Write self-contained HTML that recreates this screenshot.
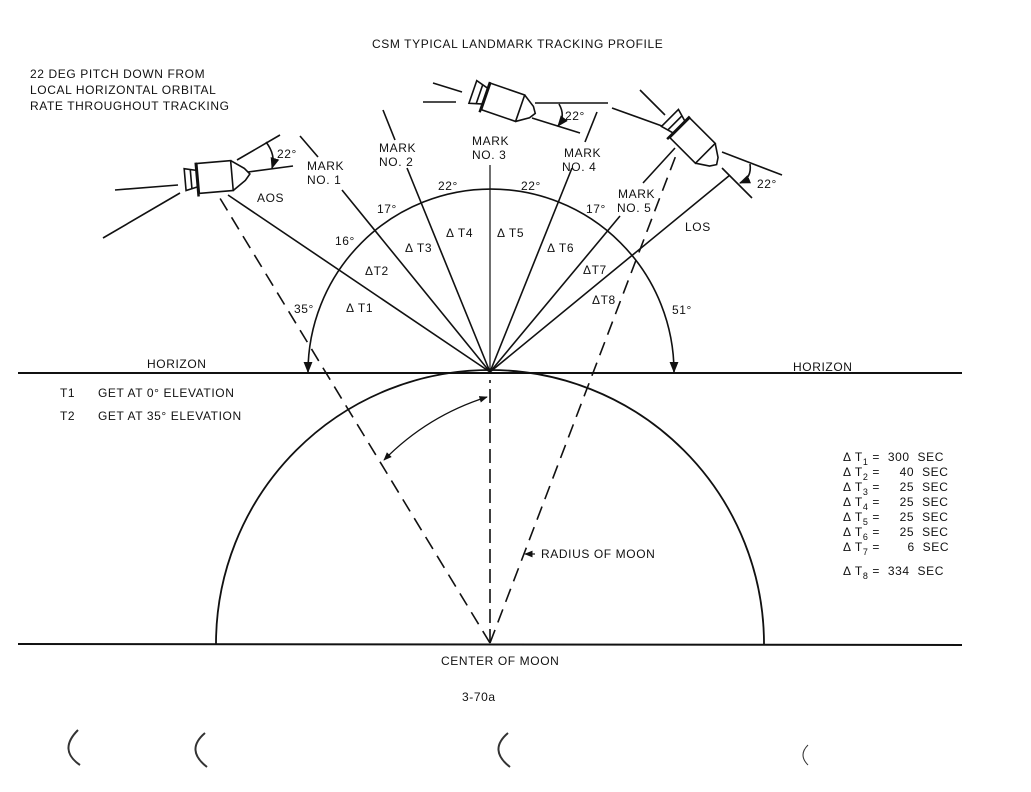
<!DOCTYPE html>
<html><head><meta charset="utf-8"><style>
html,body{margin:0;padding:0;background:#fff;}
svg{display:block;}
text{font-family:"Liberation Sans",sans-serif;font-size:12px;fill:#111;letter-spacing:0.6px;}
</style></head><body>
<svg width="1031" height="792" viewBox="0 0 1031 792" xmlns="http://www.w3.org/2000/svg">
<defs>
<marker id="ah" viewBox="0 0 10 10" refX="9" refY="5" markerWidth="7" markerHeight="7" orient="auto-start-reverse"><path d="M0,1 L10,5 L0,9 z" fill="#111"/></marker>
</defs>
<rect width="1031" height="792" fill="#fff"/>
<g stroke="#111" fill="none" stroke-width="1.6">
<line x1="18" y1="373" x2="962" y2="373" stroke-width="2"/>
<line x1="18" y1="644" x2="962" y2="645" stroke-width="2"/>
<path d="M216,644 A274,274 0 0 1 764,644" stroke-width="1.8"/>
<path d="M308,372 A183,183 0 0 1 674,372" marker-start="url(#ah)" marker-end="url(#ah)"/>
<line x1="490" y1="372" x2="228" y2="195"/>
<line x1="490" y1="372" x2="342" y2="190"/>
<line x1="490" y1="372" x2="407" y2="168"/>
<line x1="490" y1="372" x2="490" y2="165" stroke-width="1.2"/>
<line x1="490" y1="372" x2="572" y2="168"/>
<line x1="490" y1="372" x2="620" y2="216"/>
<line x1="490" y1="372" x2="730" y2="175"/>
<line x1="300" y1="136" x2="318" y2="157"/>
<line x1="383" y1="110" x2="395" y2="140"/>
<line x1="597" y1="112" x2="585" y2="142"/>
<line x1="643" y1="183" x2="675" y2="148"/>
<line x1="490" y1="643" x2="218" y2="195" stroke-dasharray="14,8"/>
<line x1="490" y1="643" x2="678" y2="150" stroke-dasharray="14,8"/>
<line x1="490" y1="643" x2="490" y2="380" stroke-dasharray="14,6"/>
<path d="M384,460 A250,250 0 0 1 487,397" stroke-width="1.2" marker-start="url(#ah)" marker-end="url(#ah)"/>
<line x1="535" y1="554" x2="525" y2="554" stroke-width="1.2" marker-end="url(#ah)"/>

<line x1="103" y1="238" x2="180" y2="193"/>
<line x1="237" y1="160" x2="280" y2="135"/>
<line x1="115" y1="190" x2="178" y2="185"/>
<line x1="248" y1="172" x2="293" y2="166"/>
<path d="M266,142 Q276,155 272,168" marker-end="url(#ah)"/>
<g transform="translate(215,177) rotate(-5)">
<rect x="-17" y="-15" width="34" height="30"/>
<path d="M17,-15 L30,-6 L35,0 L30,6 L17,15"/>
<path d="M-17,-8 L-30,-11 L-30,11 L-17,8"/>
<line x1="-24" y1="-10" x2="-24" y2="10"/>
<line x1="-18" y1="-16" x2="-18" y2="18" stroke-width="2.5"/>
</g>
<line x1="423" y1="102" x2="456" y2="102"/>
<line x1="535" y1="103" x2="608" y2="103"/>
<line x1="433" y1="83" x2="462" y2="92"/>
<line x1="532" y1="118" x2="580" y2="133"/>
<path d="M559,104 Q566,116 558,126" marker-end="url(#ah)"/>
<g transform="translate(505,103) rotate(19)">
<rect x="-20" y="-14" width="36" height="28"/>
<path d="M16,-14 L28,-6 L32,0 L28,6 L16,14"/>
<path d="M-20,-8 L-34,-12 L-34,12 L-20,8"/>
<line x1="-27" y1="-10" x2="-27" y2="10"/>
<line x1="-21" y1="-15" x2="-21" y2="17" stroke-width="2.5"/>
</g>
<line x1="612" y1="108" x2="662" y2="126"/>
<line x1="722" y1="152" x2="782" y2="175"/>
<line x1="640" y1="90" x2="665" y2="115"/>
<line x1="722" y1="168" x2="752" y2="198"/>
<path d="M750,164 Q752,178 740,183" marker-end="url(#ah)"/>
<g transform="translate(694,142) rotate(45)">
<rect x="-20" y="-14" width="36" height="28"/>
<path d="M16,-14 L28,-6 L32,0 L28,6 L16,14"/>
<path d="M-20,-8 L-34,-12 L-34,12 L-20,8"/>
<line x1="-27" y1="-10" x2="-27" y2="10"/>
<line x1="-21" y1="-15" x2="-21" y2="17" stroke-width="2.5"/>
</g>
</g>
<g stroke="#333" fill="none" stroke-width="2">
<path d="M78,730 Q58,750 80,765"/>
<path d="M205,733 Q185,750 207,767"/>
<path d="M508,733 Q488,750 510,767"/>
<path d="M808,745 Q798,755 808,765" stroke-width="1"/>
</g>
<text x="372" y="48">CSM TYPICAL LANDMARK TRACKING PROFILE</text>
<text x="30" y="78">22 DEG PITCH DOWN FROM</text>
<text x="30" y="94">LOCAL HORIZONTAL ORBITAL</text>
<text x="30" y="110">RATE THROUGHOUT TRACKING</text>
<text x="277" y="158">22°</text>
<text x="565" y="120">22°</text>
<text x="757" y="188">22°</text>
<text x="307" y="170">MARK</text><text x="307" y="184">NO. 1</text>
<text x="379" y="152">MARK</text><text x="379" y="166">NO. 2</text>
<text x="472" y="145">MARK</text><text x="472" y="159">NO. 3</text>
<text x="564" y="157">MARK</text><text x="562" y="171">NO. 4</text>
<text x="618" y="198">MARK</text><text x="617" y="212">NO. 5</text>
<text x="257" y="202">AOS</text>
<text x="685" y="231">LOS</text>
<text x="438" y="190">22°</text>
<text x="521" y="190">22°</text>
<text x="377" y="213">17°</text>
<text x="586" y="213">17°</text>
<text x="335" y="245">16°</text>
<text x="294" y="313">35°</text>
<text x="672" y="314">51°</text>
<text x="346" y="312">Δ T1</text>
<text x="365" y="275">ΔT2</text>
<text x="405" y="252">Δ T3</text>
<text x="446" y="237">Δ T4</text>
<text x="497" y="237">Δ T5</text>
<text x="547" y="252">Δ T6</text>
<text x="583" y="274">ΔT7</text>
<text x="592" y="304">ΔT8</text>
<text x="147" y="368">HORIZON</text>
<text x="793" y="371">HORIZON</text>
<text x="60" y="397">T1</text><text x="98" y="397">GET AT 0° ELEVATION</text>
<text x="60" y="420">T2</text><text x="98" y="420">GET AT 35° ELEVATION</text>
<text x="541" y="558">RADIUS OF MOON</text>
<text x="441" y="665">CENTER OF MOON</text>
<text x="462" y="701">3-70a</text>
<g font-size="12">
<text x="843" y="461">Δ T<tspan font-size="9" dy="4">1</tspan><tspan dy="-4"> =&#160;&#160;300&#160;&#160;SEC</tspan></text>
<text x="843" y="476">Δ T<tspan font-size="9" dy="4">2</tspan><tspan dy="-4"> =&#160;&#160;&#160;&#160;&#160;40&#160;&#160;SEC</tspan></text>
<text x="843" y="491">Δ T<tspan font-size="9" dy="4">3</tspan><tspan dy="-4"> =&#160;&#160;&#160;&#160;&#160;25&#160;&#160;SEC</tspan></text>
<text x="843" y="506">Δ T<tspan font-size="9" dy="4">4</tspan><tspan dy="-4"> =&#160;&#160;&#160;&#160;&#160;25&#160;&#160;SEC</tspan></text>
<text x="843" y="521">Δ T<tspan font-size="9" dy="4">5</tspan><tspan dy="-4"> =&#160;&#160;&#160;&#160;&#160;25&#160;&#160;SEC</tspan></text>
<text x="843" y="536">Δ T<tspan font-size="9" dy="4">6</tspan><tspan dy="-4"> =&#160;&#160;&#160;&#160;&#160;25&#160;&#160;SEC</tspan></text>
<text x="843" y="551">Δ T<tspan font-size="9" dy="4">7</tspan><tspan dy="-4"> =&#160;&#160;&#160;&#160;&#160;&#160;&#160;6&#160;&#160;SEC</tspan></text>
<text x="843" y="575">Δ T<tspan font-size="9" dy="4">8</tspan><tspan dy="-4"> =&#160;&#160;334&#160;&#160;SEC</tspan></text>
</g>
</svg>
</body></html>
